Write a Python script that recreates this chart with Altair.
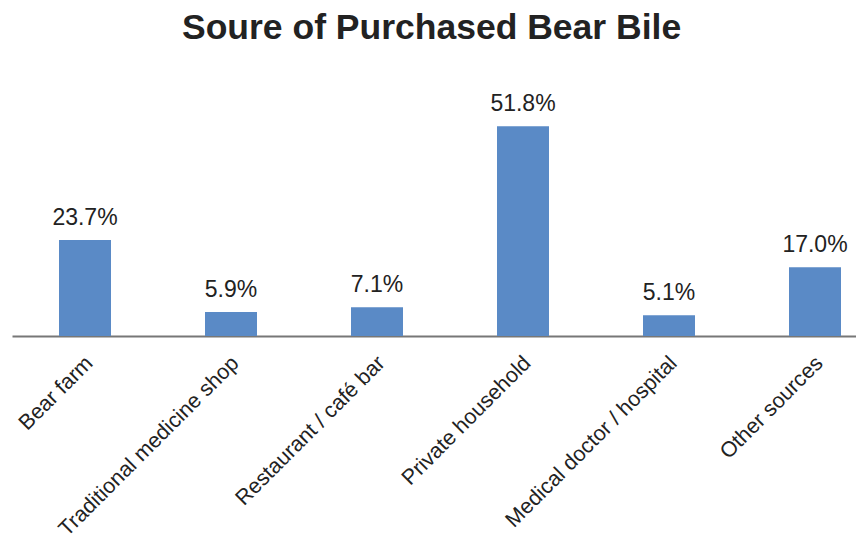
import altair as alt
import pandas as pd

categories = [
    "Bear farm",
    "Traditional medicine shop",
    "Restaurant / café bar",
    "Private household",
    "Medical doctor / hospital",
    "Other sources",
]
values = [23.7, 5.9, 7.1, 51.8, 5.1, 17.0]

df = pd.DataFrame({"source": categories, "pct": values})
df["label"] = [f"{v:.1f}%" for v in values]

FONT = "Liberation Sans"

base = alt.Chart(df).encode(
    x=alt.X(
        "source:N",
        sort=categories,
        scale=alt.Scale(range=[0, 876], paddingInner=0, paddingOuter=0),
        axis=alt.Axis(
            title=None,
            labelAngle=-45,
            labelFontSize=21.5,
            labelFont=FONT,
            labelColor="#222222",
            ticks=False,
            domainColor="#777777",
            domainWidth=2,
            labelPadding=16,
            labelOffset=-3,
            labelLimit=400,
        ),
    ),
    y=alt.Y(
        "pct:Q",
        scale=alt.Scale(domain=[0, 60], nice=False),
        axis=None,
    ),
)

bars = base.mark_bar(size=52, color="#5A8AC6")
text = base.mark_text(
    dy=-15, baseline="alphabetic", fontSize=23, font=FONT, color="#222222"
).encode(text="label:N")

chart = (
    (bars + text)
    .properties(
        width=844,
        height=243,
        autosize=alt.AutoSizeParams(type="none"),
        padding={"left": 4, "top": 85, "right": 0, "bottom": 200},
        title=alt.TitleParams(
            "Soure of Purchased Bear Bile",
            font=FONT,
            fontSize=35.5,
            fontWeight="bold",
            color="#222222",
            anchor="start",
            baseline="bottom",
            offset=12,
            dx=170,
        ),
    )
    .configure_view(stroke=None)
)

chart.save("out.html", embed_options={"renderer": "svg", "actions": False})
